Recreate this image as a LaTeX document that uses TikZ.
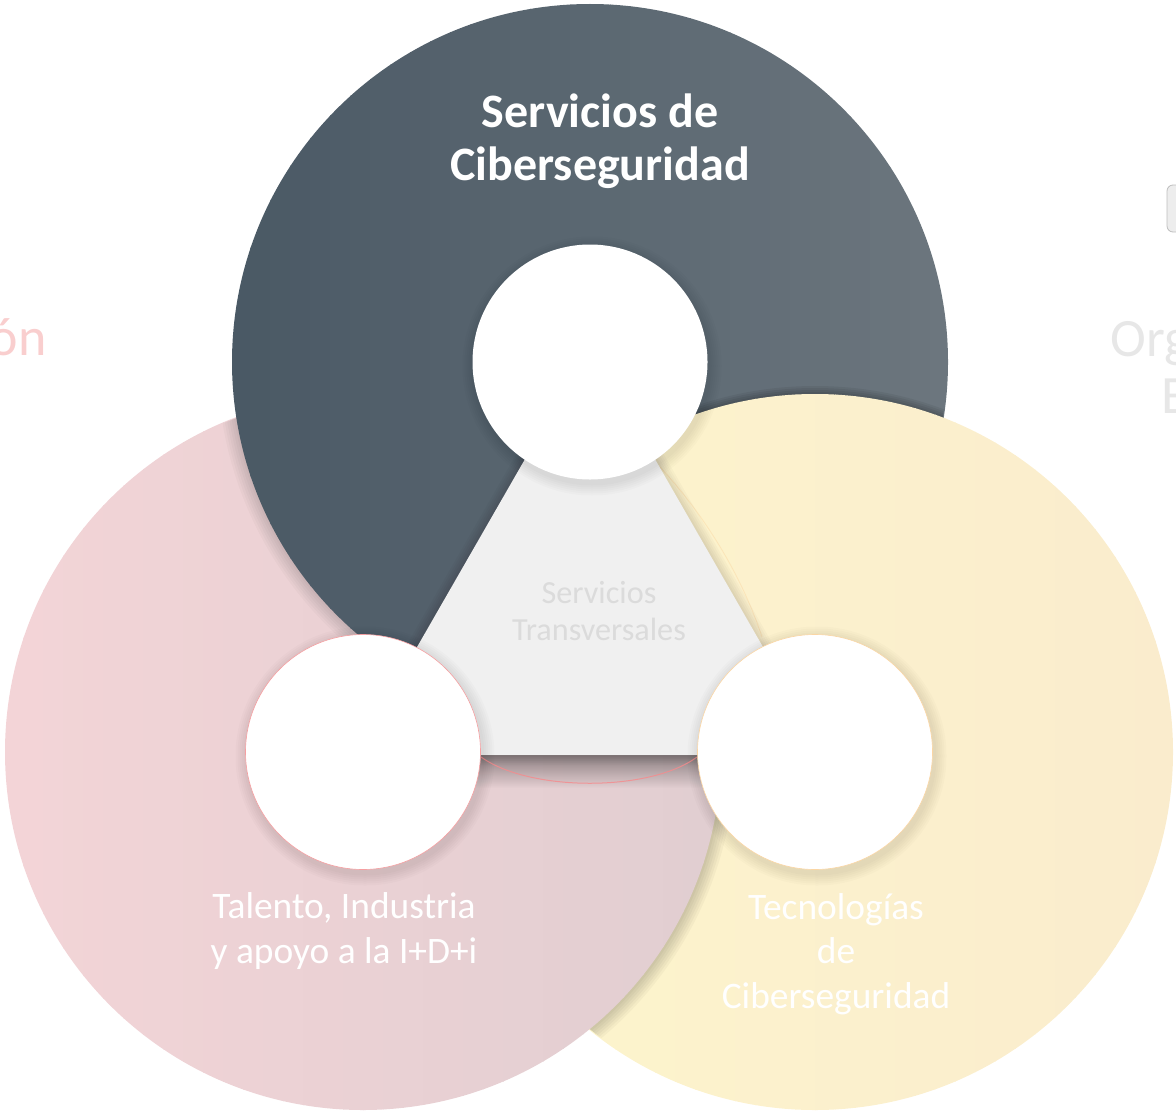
\documentclass[tikz,border=0pt]{standalone}
\usepackage{fontspec}
\setmainfont{Carlito}
\usepackage{tikz}
\usetikzlibrary{calc,positioning,fadings}
\definecolor{slateL}{RGB}{74,89,101}
\definecolor{slateR}{RGB}{108,118,126}
\definecolor{roseL}{RGB}{243,212,215}
\definecolor{roseR}{RGB}{225,206,209}
\definecolor{sandL}{RGB}{253,245,204}
\definecolor{sandR}{RGB}{250,236,205}
\definecolor{trigray}{RGB}{240,240,240}
\definecolor{trtext}{RGB}{219,219,219}
\definecolor{sidepink}{RGB}{249,206,206}
\definecolor{sidegray}{RGB}{231,231,231}
\tikzfading[name=fadedown, top color=transparent!0, bottom color=transparent!100]
\def\ringr{179pt}
% ring #1 filled from colour #2 (left) to colour #3 (right) in thin bands
\newcommand\ringfill[3]{%
	\begin{scope}
		\clip (#1) circle[radius=\ringr];
		\foreach \s in {0,...,35} {
			\pgfmathtruncatemacro\pct{\s*100/35}
			\fill[#3!\pct!#2] ($(#1)+(-360+\s*20,-362)$) rectangle ++(21,724);
		}
	\end{scope}}
\tikzstyle{hole} = [
	circle,
	fill = white,
	minimum size = 117.5pt,
	inner sep = 0pt
	]
\tikzstyle{ttl} = [
	white, anchor = base, align = center,
	font = \bfseries\fontsize{24}{26.5}\selectfont
	]
\tikzstyle{lbl} = [
	white, anchor = base, align = center,
	font = \fontsize{18.7}{22.25}\selectfont
	]
\tikzstyle{mid} = [
	trtext, anchor = base, align = center,
	font = \fontsize{16.1}{18.5}\selectfont
	]
\tikzstyle{side} = [
	inner sep = 0pt,
	font = \fontsize{27}{32}\selectfont
	]

\begin{document}
\begin{tikzpicture}[x=0.5pt,y=-0.5pt]
		\useasboundingbox (0,0) rectangle (1176,1113);
		\coordinate (cserv) at (590,362);
		\coordinate (ctal) at (363,752);
		\coordinate (ctec) at (815,752);
		% three rings, each one lying on the next
		\ringfill{ctec}{sandL}{sandR}
		\begin{scope}
			\clip (ctec) circle[radius=\ringr-.5pt];
			\foreach \k in {1,...,6} \fill[black,opacity=.03] (ctal) circle[radius=\ringr+\k*1.2pt];
		\end{scope}
		\ringfill{ctal}{roseL}{roseR}
		\begin{scope}
			\clip (ctal) circle[radius=\ringr-.5pt];
			\foreach \k in {1,...,6} \fill[black,opacity=.025] (cserv) circle[radius=\ringr+\k*1.2pt];
		\end{scope}
		\ringfill{cserv}{slateL}{slateR}
		\begin{scope}
			\clip (cserv) circle[radius=\ringr-.5pt];
			\foreach \k in {1,...,4} \fill[black,opacity=.06] (ctec) circle[radius=\ringr+\k*1pt];
		\end{scope}
		\begin{scope}
			\clip (cserv) circle[radius=\ringr+1.5pt];
			\ringfill{ctec}{sandL}{sandR}
		\end{scope}
		\draw[sandR!75!orange, opacity=.4, line width=.4pt] (660,467) .. controls (700,510) and (740,570) .. (762,637);
		% middle triangle
		\foreach \k in {1,...,5} \draw[black,opacity=.022,line width=\k*2pt,line join=round] (590,346) -- (355,755) -- (825,755) -- cycle;
		\fill[trigray] (590,346) -- (355,755) -- (825,755) -- cycle;
		\fill[black,opacity=.38,path fading=fadedown] (470,755) rectangle (710,788);
		\draw[red!35!roseL, opacity=.8, line width=.5pt] (481,757) .. controls (530,792) and (650,792) .. (697,757);
		% white holes
		\foreach \c in {cserv,ctal,ctec}
			\foreach \k in {1,...,6} \fill[black,opacity=.016] ($(\c)+(2,4)$) circle[radius=58.75pt+\k*1pt];
		\node[hole] (hserv) at (cserv) {};
		\node[hole, draw=red!25!roseL, line width=.3pt] (htal) at (ctal) {};
		\node[hole, draw=sandR!80!orange, line width=.3pt] (htec) at (ctec) {};
		% labels
		\node[ttl] (tserv) at (600,180) {Servicios de\\Ciberseguridad};
		\node[mid] (ttrans) at (599,640) {Servicios\\Transversales};
		\node[lbl] (ttal) at (344,963) {Talento, Industria\\y apoyo a la I+D+i};
		\node[lbl] (ttec) at (836,1008) {Tecnologías\\de\\Ciberseguridad};
		\node[side, sidepink, anchor=base east] (lcut) at (47,355) {ón};
		\node[side, sidegray, anchor=base west] (rcut) at (1110,356) {Org};
		\node[side, sidegray, anchor=base west] (rcutb) at (1161,413) {E};
		\draw[rounded corners=3pt, fill=black!7, draw=black!25] (1167,185) rectangle (1200,232);
	\end{tikzpicture}
\end{document}
